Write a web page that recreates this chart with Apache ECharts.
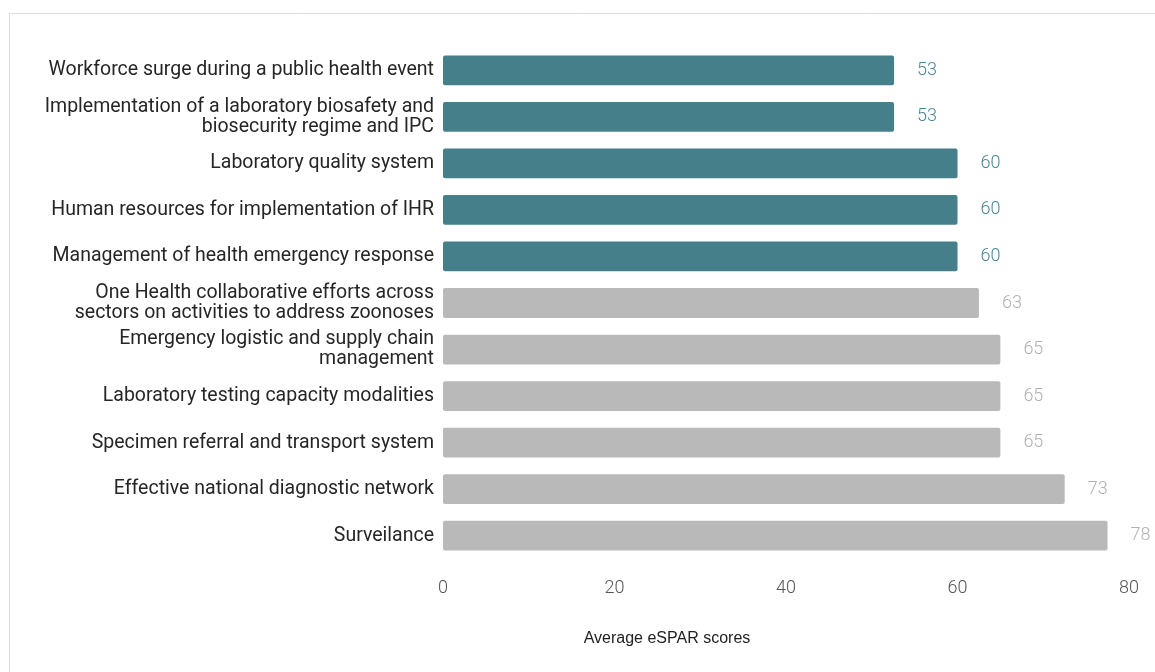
<!DOCTYPE html>
<html>
<head>
<meta charset="utf-8">
<script src="https://cdn.jsdelivr.net/npm/echarts@6/dist/echarts.min.js"></script>
<style>
html,body{margin:0;padding:0;background:#fff;}
#chart{width:1155px;height:672px;}
</style>
</head>
<body>
<div id="chart"></div>
<script>
const categories = [
  "Workforce surge during a public health event",
  "Implementation of a laboratory biosafety and\nbiosecurity regime and IPC",
  "Laboratory quality system",
  "Human resources for implementation of IHR",
  "Management of health emergency response",
  "One Health collaborative efforts across\nsectors on activities to address zoonoses",
  "Emergency logistic and supply chain\nmanagement",
  "Laboratory testing capacity modalities",
  "Specimen referral and transport system",
  "Effective national diagnostic network",
  "Surveilance"
];
const scores = [52.6, 52.6, 60, 60, 60, 62.5, 65, 65, 65, 72.5, 77.5];
const highlighted = [true, true, true, true, true, false, false, false, false, false, false];
const xTicks = [0, 20, 40, 60, 80];

const teal = '#457f8a';
const gray = '#b9b9b9';

const chart = echarts.init(document.getElementById('chart'));
chart.setOption({
  animation: false,
  graphic: [{
    type: 'rect',
    shape: {x: 9.5, y: 13.5, width: 1200, height: 700},
    style: {fill: 'none', stroke: '#dcdcdc', lineWidth: 1},
    silent: true
  }],
  grid: {left: 443, right: 26, top: 47, bottom: 113, containLabel: false},
  xAxis: {
    type: 'value',
    min: xTicks[0], max: xTicks[xTicks.length - 1], interval: 20,
    splitLine: {show: false},
    axisLine: {show: false},
    axisTick: {show: false},
    axisLabel: {margin: 20, color: '#555', fontSize: 18, fontFamily: 'Roboto', fontWeight: 300},
    name: 'Average eSPAR scores',
    nameLocation: 'middle',
    nameGap: 72,
    nameTextStyle: {color: '#222', fontSize: 16, fontFamily: 'Liberation Sans', padding: [0, 238, 0, 0]}
  },
  yAxis: {
    type: 'category',
    data: categories,
    inverse: true,
    axisLine: {show: false},
    axisTick: {show: false},
    splitLine: {show: false},
    axisLabel: {margin: 9, color: '#262626', fontSize: 19.5, fontFamily: 'Roboto', lineHeight: 20, align: 'right'}
  },
  series: [{
    type: 'bar',
    data: scores.map((v, i) => ({
      value: v,
      itemStyle: {color: highlighted[i] ? teal : gray},
      label: {color: highlighted[i] ? '#4a8795' : '#b0b0b0'}
    })),
    barCategoryGap: '36%',
    itemStyle: {borderRadius: 2},
    label: {
      show: true,
      position: 'right',
      distance: 23,
      fontSize: 18,
      fontFamily: 'Roboto',
      fontWeight: 300,
      formatter: p => Math.round(p.value)
    }
  }]
});
</script>
</body>
</html>
